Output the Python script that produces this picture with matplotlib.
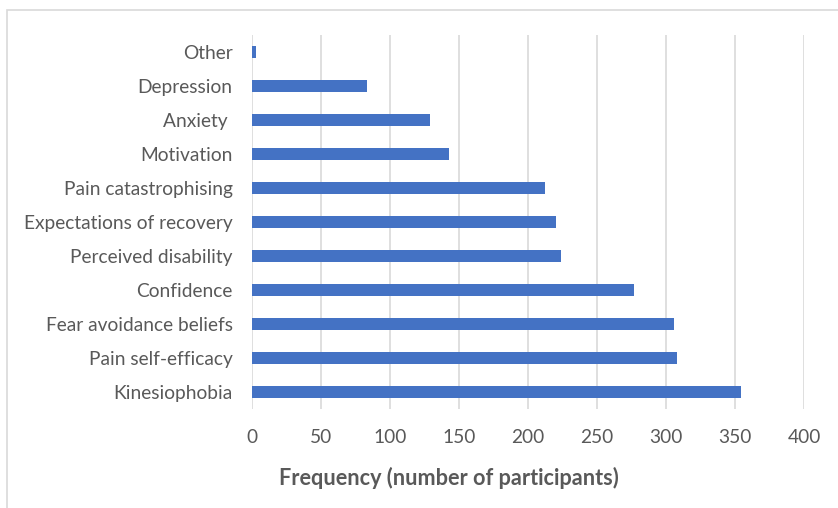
import matplotlib.pyplot as plt
from matplotlib.patches import Rectangle

# Data (top to bottom)
categories = ['Other', 'Depression', 'Anxiety ', 'Motivation', 'Pain catastrophising',
              'Expectations of recovery', 'Perceived disability', 'Confidence',
              'Fear avoidance beliefs', 'Pain self-efficacy', 'Kinesiophobia']
frequency = [3, 83, 129, 143, 212, 220, 224, 277, 306, 308, 354]
x_ticks = [0, 50, 100, 150, 200, 250, 300, 350, 400]

plt.rcParams['font.family'] = ['Lato', 'DejaVu Sans']

W, H = 838, 508
fig = plt.figure(figsize=(W / 100, H / 100), dpi=100)
fig.patch.set_facecolor('white')

# light chart border (Excel chart area), runs off the right/bottom edge
fig.add_artist(Rectangle((7 / W, -0.05), 1.0, 1 - 10 / H + 0.05, transform=fig.transFigure,
                         fill=False, edgecolor='#d9d9d9', linewidth=1.2))

ax = fig.add_axes([252 / W, (H - 409) / H, (804 - 252) / W, (409 - 35) / H])

y = list(range(len(categories)))
ax.barh(y, frequency, height=0.36, color='#4472c4', zorder=3)
ax.set_ylim(len(categories) - 0.5, -0.5)
ax.set_yticks(y)
ax.set_yticklabels(categories)
ax.set_xlim(0, 400)
ax.set_xticks(x_ticks)

ax.grid(axis='x', color='#d9d9d9', linewidth=1.2, zorder=0)
for s in ax.spines.values():
    s.set_visible(False)
ax.tick_params(axis='both', length=0, labelsize=13.8, colors='#595959')
ax.tick_params(axis='y', pad=14)
ax.tick_params(axis='x', pad=14.5)

fig.text(449 / W, 1 - 478 / H, 'Frequency (number of participants)', ha='center', va='center',
         fontsize=15.6, fontweight='bold', color='#595959')

fig.savefig('out.png', dpi=100, facecolor='white')
